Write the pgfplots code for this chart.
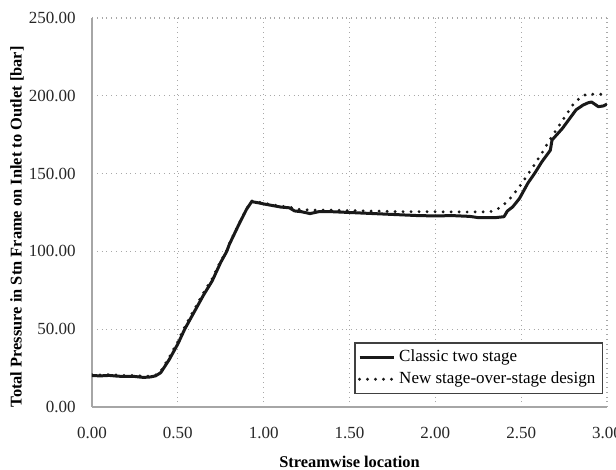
\documentclass[border=0pt]{standalone}
\usepackage{fontspec}
\setmainfont{Liberation Serif}
\usepackage{pgfplots}
\pgfplotsset{compat=1.18}
\usetikzlibrary{calc}
\definecolor{axgray}{HTML}{A6A6A6}
\definecolor{gridgray}{HTML}{A8A8A8}

\begin{document}
\begin{tikzpicture}
\begin{axis}[
  name=ax,
  scale only axis,width=257.5pt,height=194.5pt,
  xmin=0,xmax=3,ymin=0,ymax=250,
  xtick={0,0.5,...,3},ytick={0,50,...,250},
  xticklabel={\pgfmathprintnumber[fixed,fixed zerofill,precision=2]{\tick}},
  yticklabel={\pgfmathprintnumber[fixed,fixed zerofill,precision=2]{\tick}},
  /pgf/number format/assume math mode=true,
  tick label style={font=\fontsize{8.5}{10}\selectfont,text=black!85},
  xticklabel style={yshift=-6.5pt},
  yticklabel style={xshift=-4.7pt},
  major tick length=0pt,
  axis x line*=bottom,axis y line*=left,
  axis line style={draw=axgray,line width=0.7pt,-},
  grid=major,grid style={draw=gridgray,dotted,line width=0.55pt},
  xlabel={\bfseries Streamwise location},
  ylabel={\bfseries Total Pressure in Stn Frame on Inlet to Outlet [bar]},
  label style={font=\fontsize{8.2}{10}\selectfont},
  xlabel style={at={(axis description cs:0.5,-0.141)},anchor=center},
  ylabel style={at={(axis description cs:-0.1456,0.463)},anchor=center},
  legend style={at={(0.992,0.033)},anchor=south east,draw=black!75,line width=0.6pt,
    font=\fontsize{8.5}{10}\selectfont,inner sep=1.5pt,row sep=-0.5pt},
  legend cell align=left,
]
\addplot[black!90,line width=1.5pt,line join=round] coordinates {
  (0.00,20.2) (0.05,20.0) (0.10,20.3) (0.15,19.8) (0.20,19.6) (0.25,19.6)
  (0.30,19.0) (0.34,19.3) (0.37,20.0) (0.40,22.0) (0.45,30.5) (0.50,40.5)
  (0.54,50.0) (0.60,62.0) (0.65,72.0) (0.70,81.0) (0.75,93.0) (0.785,100.0)
  (0.80,104.5) (0.85,116.0) (0.90,127.0) (0.93,132.0) (0.98,131.0) (1.00,130.5)
  (1.05,129.5) (1.10,128.5) (1.15,128.0) (1.18,126.0) (1.22,125.5) (1.27,124.3)
  (1.32,125.5) (1.40,125.5) (1.50,125.0) (1.60,124.5) (1.70,124.0) (1.80,123.5)
  (1.90,123.0) (2.00,122.8) (2.10,123.0) (2.20,122.5) (2.25,121.7) (2.35,121.7)
  (2.40,122.3) (2.42,126.0) (2.45,128.5) (2.49,134.0) (2.54,144.0) (2.58,150.4)
  (2.62,157.5) (2.67,165.0) (2.68,171.6) (2.74,179.0) (2.78,185.0) (2.82,191.0)
  (2.86,194.0) (2.89,195.5) (2.91,196.0) (2.95,193.0) (2.98,193.5) (3.00,194.7)
};
\addlegendentry{Classic two stage}
\addplot[black!90,line width=1.6pt,line cap=round,dash pattern=on 0pt off 4pt] coordinates {
  (0.00,20.8) (0.05,20.6) (0.10,20.8) (0.15,20.5) (0.20,20.2) (0.25,20.3)
  (0.30,19.8) (0.34,19.8) (0.37,20.5) (0.40,22.8) (0.45,32.0) (0.50,42.0)
  (0.54,51.5) (0.60,63.5) (0.65,73.5) (0.70,82.5) (0.75,94.0) (0.785,100.5)
  (0.80,105.0) (0.85,116.5) (0.90,127.5) (0.93,132.5) (1.00,131.0) (1.10,129.0)
  (1.15,128.5) (1.20,127.0) (1.30,126.5) (1.40,126.5) (1.60,126.0) (1.80,125.5)
  (2.00,125.5) (2.20,125.3) (2.32,125.5) (2.36,127.0) (2.39,129.4) (2.42,132.0)
  (2.45,136.0) (2.49,141.6) (2.53,148.0) (2.57,154.5) (2.62,163.0) (2.66,170.5)
  (2.71,179.0) (2.755,186.6) (2.80,194.0) (2.84,198.5) (2.88,201.0) (2.94,201.0)
  (3.00,201.0)
};
\addlegendentry{New stage-over-stage design}
\end{axis}
\pgfresetboundingbox
\path ($(ax.south west)+(-46pt,-31.5pt)$) rectangle ($(ax.north east)+(4.5pt,9pt)$);
\end{tikzpicture}
\end{document}
